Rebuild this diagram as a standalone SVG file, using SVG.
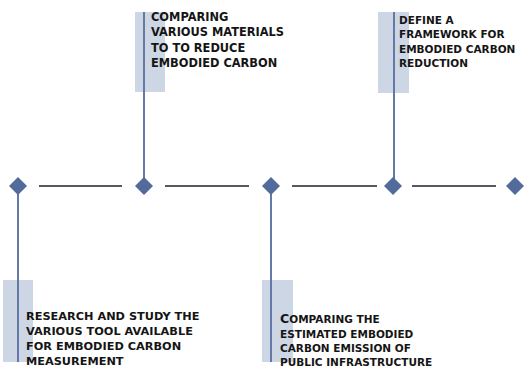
<svg xmlns="http://www.w3.org/2000/svg" width="529" height="374" viewBox="0 0 529 374">
  <style>
    .band { fill: #cdd6e5; }
    .stem { stroke: #6479a6; stroke-width: 2; fill: none; }
    .gem { fill: #536b9b; }
    .link { stroke: #555a60; stroke-width: 2; fill: none; }
    .label { font-family: "DejaVu Sans", "Liberation Sans", sans-serif; font-weight: bold; fill: #151515; }
  </style>
  <rect width="529" height="374" fill="#ffffff"/>

  <!-- timeline segments -->
  <g id="connectors">
    <line class="link" x1="39" y1="186" x2="122" y2="186"/>
    <line class="link" x1="165" y1="186" x2="249" y2="186"/>
    <line class="link" x1="292" y1="186" x2="377" y2="186"/>
    <line class="link" x1="412" y1="186" x2="496" y2="186"/>
  </g>

  <g id="node-research">
    <rect class="band" x="3" y="280" width="30" height="82"/>
    <line class="stem" x1="18" y1="186" x2="18" y2="362"/>
    <polygon class="gem" points="18,177 27,186 18,195 9,186"/>
    <text class="label" font-size="11.3">
      <tspan x="26" y="320">RESEARCH AND STUDY THE</tspan>
      <tspan x="26" y="335">VARIOUS TOOL AVAILABLE</tspan>
      <tspan x="26" y="350">FOR EMBODIED CARBON</tspan>
      <tspan x="26" y="365">MEASUREMENT</tspan>
    </text>
  </g>

  <g id="node-materials">
    <rect class="band" x="135" y="12" width="30" height="80"/>
    <line class="stem" x1="144" y1="12" x2="144" y2="186"/>
    <polygon class="gem" points="144,177 153,186 144,195 135,186"/>
    <text class="label" font-size="11.4">
      <tspan x="151" y="20.5">COMPARING</tspan>
      <tspan x="151" y="36">VARIOUS MATERIALS</tspan>
      <tspan x="151" y="51.5">TO TO REDUCE</tspan>
      <tspan x="151" y="67">EMBODIED CARBON</tspan>
    </text>
  </g>

  <g id="node-comparing">
    <rect class="band" x="262" y="280" width="31" height="82"/>
    <line class="stem" x1="271" y1="186" x2="271" y2="362"/>
    <polygon class="gem" points="271,177 280,186 271,195 262,186"/>
    <text class="label" font-size="10.5">
      <tspan x="280" y="323"><tspan font-size="12.6">C</tspan>OMPARING THE</tspan>
      <tspan x="280" y="338">ESTIMATED EMBODIED</tspan>
      <tspan x="280" y="352">CARBON EMISSION OF</tspan>
      <tspan x="280" y="365.5">PUBLIC INFRASTRUCTURE</tspan>
    </text>
  </g>

  <g id="node-framework">
    <rect class="band" x="378" y="12" width="31" height="81"/>
    <line class="stem" x1="394" y1="12" x2="394" y2="186"/>
    <polygon class="gem" points="393,177 402,186 393,195 384,186"/>
    <text class="label" font-size="10.5">
      <tspan x="399" y="23.5">DEFINE A</tspan>
      <tspan x="399" y="38">FRAMEWORK FOR</tspan>
      <tspan x="399" y="52.5">EMBODIED CARBON</tspan>
      <tspan x="399" y="67">REDUCTION</tspan>
    </text>
  </g>

  <g id="node-end">
    <polygon class="gem" points="515,177 524,186 515,195 506,186"/>
  </g>
</svg>
